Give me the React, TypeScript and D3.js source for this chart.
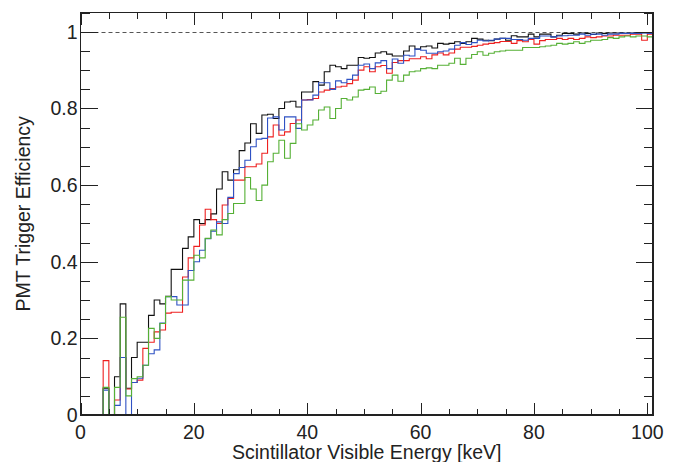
import { useEffect, useRef } from "react";
import * as d3 from "d3";

// 1 keV bins, 0..101 keV
const binLow = d3.range(0, 101);

const effBlack = [
  0, 0, 0, 0, 0.07, 0, 0.1, 0.29, 0.07, 0.15,
  0.19, 0.19, 0.26, 0.3, 0.29, 0.31, 0.38, 0.38, 0.435, 0.465,
  0.51, 0.5, 0.51, 0.525, 0.59, 0.635, 0.613, 0.64, 0.69, 0.71,
  0.76, 0.735, 0.783, 0.785, 0.774, 0.8, 0.817, 0.819, 0.804, 0.843,
  0.843, 0.87, 0.861, 0.896, 0.913, 0.909, 0.904, 0.913, 0.913, 0.933,
  0.931, 0.933, 0.945, 0.948, 0.942, 0.937, 0.937, 0.95, 0.963, 0.955,
  0.961, 0.963, 0.958, 0.97, 0.968, 0.97, 0.974, 0.97, 0.974, 0.983,
  0.981, 0.978, 0.977, 0.981, 0.983, 0.978, 0.99, 0.987, 0.987, 0.994,
  0.987, 0.994, 0.994, 0.987, 0.991, 0.996, 0.996, 0.994, 0.997, 0.996,
  0.993, 0.997, 0.996, 0.997, 0.997, 0.997, 0.996, 0.997, 0.998, 0.998,
  0.998,
];

const effBlue = [
  0, 0, 0, 0, 0.065, 0, 0.025, 0.15, 0, 0.085,
  0.096, 0.13, 0.16, 0.17, 0.24, 0.309, 0.309, 0.287, 0.287, 0.377,
  0.4, 0.43, 0.46, 0.48, 0.504, 0.5, 0.568, 0.63, 0.646, 0.665,
  0.7, 0.72, 0.722, 0.775, 0.778, 0.744, 0.778, 0.778, 0.748, 0.822,
  0.822, 0.835, 0.867, 0.867, 0.85, 0.872, 0.867, 0.876, 0.887, 0.913,
  0.916, 0.904, 0.919, 0.925, 0.904, 0.929, 0.918, 0.939, 0.937, 0.955,
  0.952, 0.944, 0.944, 0.948, 0.95, 0.955, 0.965, 0.972, 0.967, 0.972,
  0.978, 0.976, 0.978, 0.981, 0.983, 0.983, 0.98, 0.98, 0.978, 0.983,
  0.983, 0.989, 0.989, 0.987, 0.989, 0.99, 0.991, 0.991, 0.994, 0.991,
  0.994, 0.994, 0.991, 0.994, 0.994, 0.996, 0.996, 0.996, 0.996, 0.997,
  0.996,
];

const effRed = [
  0, 0, 0, 0, 0.142, 0, 0.039, 0.15, 0.068, 0.085,
  0.091, 0.174, 0.19, 0.217, 0.222, 0.266, 0.268, 0.268, 0.36, 0.41,
  0.44, 0.496, 0.537, 0.51, 0.5, 0.548, 0.565, 0.613, 0.613, 0.648,
  0.648, 0.655, 0.683, 0.726, 0.757, 0.73, 0.739, 0.761, 0.77, 0.822,
  0.823, 0.826, 0.843, 0.848, 0.852, 0.856, 0.858, 0.865, 0.874, 0.9,
  0.909, 0.896, 0.909, 0.912, 0.892, 0.92, 0.925, 0.925, 0.93, 0.93,
  0.935, 0.93, 0.94, 0.945, 0.94, 0.945, 0.955, 0.96, 0.96, 0.962,
  0.965, 0.968, 0.97, 0.972, 0.975, 0.975, 0.97, 0.977, 0.974, 0.98,
  0.968, 0.977, 0.98, 0.98, 0.983, 0.98, 0.983, 0.98, 0.983, 0.987,
  0.985, 0.987, 0.989, 0.989, 0.991, 0.991, 0.991, 0.994, 0.994, 0.978,
  0.994,
];

const effGreen = [
  0, 0, 0, 0, 0.072, 0, 0.072, 0.255, 0.05, 0.095,
  0.1, 0.13, 0.226, 0.2, 0.239, 0.309, 0.3, 0.3, 0.352, 0.352,
  0.417, 0.41, 0.461, 0.483, 0.47, 0.51, 0.526, 0.552, 0.552, 0.62,
  0.59, 0.56, 0.6, 0.661, 0.683, 0.717, 0.67, 0.709, 0.76, 0.744,
  0.757, 0.77, 0.796, 0.804, 0.774, 0.8, 0.826, 0.822, 0.83, 0.848,
  0.85, 0.856, 0.839, 0.845, 0.874, 0.887, 0.871, 0.887, 0.896, 0.898,
  0.904, 0.906, 0.904, 0.913, 0.913, 0.918, 0.931, 0.915, 0.931, 0.941,
  0.948, 0.939, 0.944, 0.948, 0.95, 0.952, 0.952, 0.952, 0.959, 0.959,
  0.959, 0.961, 0.963, 0.965, 0.97, 0.968, 0.97, 0.974, 0.97, 0.974,
  0.978, 0.978, 0.98, 0.985, 0.983, 0.987, 0.989, 0.987, 0.989, 0.989,
  0.987,
];

const series = [
  { name: "black", values: effBlack, color: "#111111" },
  { name: "red", values: effRed, color: "#ee2020" },
  { name: "blue", values: effBlue, color: "#2f52c4" },
  { name: "green", values: effGreen, color: "#55b035" },
];

const xTicks = [0, 20, 40, 60, 80, 100];
const yTicks = [0, 0.2, 0.4, 0.6, 0.8, 1];

const W = 673;
const H = 462;
const FONT = "'Liberation Sans', Arial, Helvetica, sans-serif";

export default function App() {
  const svgRef = useRef<SVGSVGElement>(null);

  useEffect(() => {
    if (!svgRef.current) return;
    const svg = d3.select(svgRef.current);
    svg.selectAll("*").remove();

    const left = 80.5, right = 653, top = 12.7, bottom = 415;
    const x = d3.scaleLinear().domain([0, 101]).range([left, right]);
    const y = d3.scaleLinear().domain([0, 1.05]).range([bottom, top]);

    svg.append("rect").attr("width", W).attr("height", H).attr("fill", "#fff");

    // dashed line at 1
    svg.append("line")
      .attr("x1", left).attr("x2", right)
      .attr("y1", Math.round(y(1)) + 0.5).attr("y2", Math.round(y(1)) + 0.5)
      .attr("stroke", "#555").attr("stroke-width", 1).attr("stroke-dasharray", "4,3");

    // histograms
    const line = d3.line<[number, number]>()
      .x((d) => x(d[0]))
      .y((d) => y(d[1]))
      .curve(d3.curveStepAfter);

    series.forEach((s) => {
      const pts: [number, number][] = binLow.map((b, i) => [b, s.values[i]]);
      pts.push([binLow[binLow.length - 1] + 1, s.values[s.values.length - 1]]);
      svg.append("path")
        .attr("d", line(pts))
        .attr("fill", "none")
        .attr("stroke", s.color)
        .attr("stroke-width", 1.1);
    });

    // frame
    const frame = svg.append("g").attr("shape-rendering", "crispEdges");
    frame.append("rect")
      .attr("x", left).attr("y", top)
      .attr("width", right - left).attr("height", bottom - top)
      .attr("fill", "none").attr("stroke", "#222").attr("stroke-width", 1.2);

    // x ticks (bottom & top)
    x.ticks(20).forEach((t) => {
      const major = xTicks.includes(t);
      const len = major ? 12 : 6;
      const px = Math.round(x(t)) + 0.5;
      frame.append("line").attr("x1", px).attr("x2", px)
        .attr("y1", bottom).attr("y2", bottom - len).attr("stroke", "#222");
      frame.append("line").attr("x1", px).attr("x2", px)
        .attr("y1", top).attr("y2", top + len).attr("stroke", "#222");
    });

    // y ticks (left & right)
    y.ticks(20).forEach((t) => {
      const major = yTicks.some((v) => Math.abs(v - t) < 1e-9);
      const len = major ? 17 : 9;
      const py = Math.round(y(t)) + 0.5;
      frame.append("line").attr("x1", left).attr("x2", left + len)
        .attr("y1", py).attr("y2", py).attr("stroke", "#222");
      frame.append("line").attr("x1", right).attr("x2", right - len)
        .attr("y1", py).attr("y2", py).attr("stroke", "#222");
    });

    // tick labels
    const lab = svg.append("g")
      .style("font-family", FONT).style("font-size", "19.5px").attr("fill", "#222");
    xTicks.forEach((t) => {
      lab.append("text").attr("x", x(t)).attr("y", 439)
        .attr("text-anchor", "middle").text(String(t));
    });
    yTicks.forEach((t) => {
      lab.append("text").attr("x", 77.5).attr("y", y(t) + 7)
        .attr("text-anchor", "end").text(String(t));
    });

    // axis titles
    lab.append("text")
      .attr("x", (left + right) / 2).attr("y", 459)
      .attr("text-anchor", "middle")
      .text("Scintillator Visible Energy [keV]");
    lab.append("text")
      .attr("transform", `translate(30,${(top + bottom) / 2}) rotate(-90)`)
      .attr("text-anchor", "middle")
      .text("PMT Trigger Efficiency");
  }, []);

  return (
    <svg
      ref={svgRef}
      width={W}
      height={H}
      style={{ position: "absolute", left: 0, top: 0 }}
    />
  );
}
